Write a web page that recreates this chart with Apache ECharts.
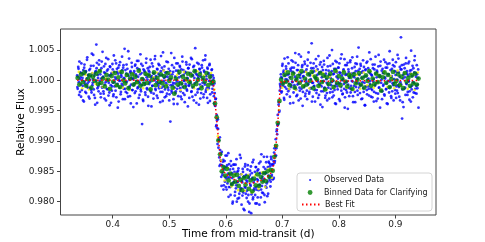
<!DOCTYPE html>
<html>
<head>
<meta charset="utf-8">
<script src="https://cdn.jsdelivr.net/npm/echarts@6/dist/echarts.min.js"></script>
<style>html,body{margin:0;padding:0;background:#fff}#c{width:485px;height:242px}</style>
</head>
<body>
<div id="c"></div>
<script>
// ---- tick labels ----
const xTicks = [0.4, 0.5, 0.6, 0.7, 0.8, 0.9];
const yTicks = [0.980, 0.985, 0.990, 0.995, 1.000, 1.005];

// ---- Observed Data (time, relative flux) ----
const observedPre = [
[.337,1.0008],[.338,.9986],[.339,1.0022],[.340,.9997],[.341,1.0031],[.342,.9981],[.343,1.0005],[.344,.9973],[.345,1.0012],[.346,1.0000],[.347,.9991],[.348,1.0017],[.349,.9965],[.350,1.0026],[.351,.9994],[.352,1.0014],[.353,.9979],[.354,1.0003],[.355,1.0038],[.356,.9988],
[.357,1.0009],[.358,.9998],[.359,.9970],[.360,1.0019],[.361,1.0007],[.362,.9984],[.363,1.0044],[.364,.9992],[.365,1.0001],[.366,1.0024],[.367,.9976],[.368,1.0011],[.369,.9960],[.370,1.0015],[.371,1.0059],[.372,1.0029],[.373,.9987],[.374,1.0004],[.375,.9982],[.376,1.0033],
[.377,.9999],[.378,1.0010],[.379,.9972],[.380,1.0020],[.381,.9989],[.382,1.0047],[.383,1.0006],[.384,.9978],[.385,1.0013],[.386,.9993],[.387,1.0027],[.388,.9967],[.389,1.0002],[.390,1.0016],[.391,.9985],[.392,1.0035],[.393,.9996],[.394,.9980],[.395,1.0023],[.396,1.0008],
[.397,.9963],[.398,1.0012],[.399,.9990],[.400,1.0018],[.401,.9974],[.402,1.0041],[.403,.9997],[.404,1.0005],[.405,.9983],[.406,1.0028],[.407,.9991],[.408,1.0014],[.409,.9955],[.410,1.0021],[.411,1.0000],[.412,.9988],[.413,1.0030],[.414,.9977],[.415,1.0009],[.416,.9994],
[.417,1.0017],[.418,.9969],[.419,1.0025],[.420,1.0003],[.421,1.0052],[.422,.9986],[.423,.9981],[.424,1.0011],[.425,.9998],[.426,1.0019],[.427,.9973],[.428,1.0007],[.429,1.0036],[.430,.9990],[.431,1.0013],[.432,.9962],[.433,1.0004],[.434,1.0022],[.435,.9984],[.436,1.0002],
[.437,.9992],[.438,1.0015],[.439,.9979],[.440,1.0026],[.441,1.0010],[.442,.9999],[.443,1.0032],[.444,.9987],[.445,1.0006],[.446,.9971],[.447,1.0018],[.448,.9995],[.449,1.0043],[.450,.9982],[.451,1.0012],[.452,.9928],[.453,1.0024],[.454,.9966],[.455,1.0001],[.456,1.0016],
[.457,.9993],[.458,.9976],[.459,1.0029],[.460,1.0005],[.461,.9985],[.462,1.0020],[.463,.9958],[.464,1.0009],[.465,1.0014],[.466,.9997],[.467,1.0034],[.468,.9980],[.469,1.0007],[.470,.9991],[.471,1.0023],[.472,.9970],[.473,1.0011],[.474,1.0000],[.475,1.0040],[.476,.9984],
[.477,1.0003],[.478,.9975],[.479,1.0018],[.480,.9994],[.481,1.0027],[.482,.9987],[.483,1.0008],[.484,.9964],[.485,1.0015],[.486,.9998],[.487,1.0021],[.488,.9981],[.489,1.0046],[.490,.9990],[.491,1.0004],[.492,.9972],[.493,1.0013],[.494,.9996],[.495,1.0031],[.496,.9978],
[.497,1.0006],[.498,.9988],[.499,1.0019],[.500,.9967],[.501,1.0010],[.502,.9932],[.503,1.0002],[.504,.9983],[.505,1.0025],[.506,.9992],[.507,1.0014],[.508,.9961],[.509,1.0037],[.510,.9995],[.511,.9979],[.512,1.0016],[.513,1.0001],[.514,.9986],[.515,1.0028],[.516,.9974],
[.517,1.0011],[.518,.9997],[.519,1.0022],[.520,.9982],[.521,1.0007],[.522,.9969],[.523,1.0039],[.524,.9989],[.525,1.0017],[.526,1.0000],[.527,.9976],[.528,1.0013],[.529,.9994],[.530,1.0030],[.531,.9985],[.532,1.0004],[.533,.9957],[.534,1.0020],[.535,.9991],[.536,1.0026],
[.537,.9998],[.538,1.0012],[.539,.9981],[.540,1.0035],[.541,.9973],[.542,1.0008],[.543,.9988],[.544,1.0024],[.545,.9995],[.546,1.0053],[.547,1.0016],[.548,.9963],[.549,1.0009],[.550,.9980],[.551,1.0003],[.552,1.0027],[.553,.9986],[.554,1.0018],[.555,.9970],[.556,1.0006],
[.557,.9990],[.558,1.0021],[.559,.9996],[.560,1.0033],[.561,.9977],[.562,1.0014],[.563,.9993],[.564,1.0041],[.565,.9984],[.566,1.0002],[.567,.9971],[.568,1.0019],[.569,1.0011],[.570,.9987],[.571,1.0025],[.572,.9966],[.573,1.0005],[.574,.9999],[.575,1.0017],[.576,.9980],
[.577,1.0008]
];
const observedPreB = [
[.3375,.9989],[.3385,1.0006],[.3395,1.0019],[.3405,.9976],[.3415,1.0002],[.3425,1.0013],[.3435,.9993],[.3445,1.0028],[.3455,.9984],[.3465,1.0004],[.3475,.9967],[.3485,1.0010],[.3495,1.0021],[.3505,.9998],[.3515,.9981],[.3525,1.0015],[.3535,.9991],[.3545,1.0034],[.3555,.9995],[.3565,1.0008],
[.3575,.9973],[.3585,1.0017],[.3595,1.0001],[.3605,.9987],[.3615,1.0024],[.3625,.9980],[.3635,1.0011],[.3645,.9996],[.3655,1.0042],[.3665,.9985],[.3675,1.0007],[.3685,.9971],[.3695,1.0014],[.3705,.9999],[.3715,1.0020],[.3725,.9963],[.3735,1.0009],[.3745,.9990],[.3755,1.0026],[.3765,.9994],
[.3775,1.0016],[.3785,.9978],[.3795,1.0003],[.3805,1.0031],[.3815,.9988],[.3825,1.0005],[.3835,.9982],[.3845,1.0023],[.3855,.9970],[.3865,1.0012],[.3875,.9997],[.3885,1.0037],[.3895,.9986],[.3905,1.0000],[.3915,1.0018],[.3925,.9975],[.3935,1.0008],[.3945,.9959],[.3955,1.0022],[.3965,.9992],
[.3975,1.0010],[.3985,.9983],[.3995,1.0027],[.4005,.9996],[.4015,.9977],[.4025,1.0014],[.4035,.9990],[.4045,1.0033],[.4055,1.0002],[.4065,.9972],[.4075,1.0019],[.4085,.9994],[.4095,1.0011],[.4105,.9965],[.4115,1.0025],[.4125,.9999],[.4135,1.0013],[.4145,.9981],[.4155,1.0006],[.4165,1.0039],
[.4175,.9991],[.4185,1.0021],[.4195,.9986],[.4205,1.0004],[.4215,.9969],[.4225,1.0017],[.4235,.9997],[.4245,1.0026],[.4255,.9979],[.4265,1.0009],[.4275,1.0048],[.4285,.9988],[.4295,1.0001],[.4305,.9974],[.4315,1.0015],[.4325,.9993],[.4335,1.0029],[.4345,.9984],[.4355,1.0003],[.4365,.9956],
[.4375,1.0012],[.4385,.9995],[.4395,1.0024],[.4405,.9982],[.4415,1.0007],[.4425,.9962],[.4435,1.0020],[.4445,.9989],[.4455,1.0032],[.4465,.9998],[.4475,.9976],[.4485,1.0010],[.4495,.9985],[.4505,1.0027],[.4515,.9992],[.4525,1.0003],[.4535,.9968],[.4545,1.0018],[.4555,.9996],[.4565,1.0014],
[.4575,.9980],[.4585,1.0009],[.4595,1.0036],[.4605,.9987],[.4615,1.0001],[.4625,.9973],[.4635,1.0016],[.4645,.9994],[.4655,1.0022],[.4665,.9983],[.4675,1.0005],[.4685,.9957],[.4695,1.0028],[.4705,.9991],[.4715,1.0012],[.4725,.9978],[.4735,1.0004],[.4745,1.0035],[.4755,.9986],[.4765,1.0007],
[.4775,.9997],[.4785,1.0019],[.4795,.9971],[.4805,1.0011],[.4815,.9990],[.4825,1.0025],[.4835,.9995],[.4845,.9981],[.4855,1.0040],[.4865,.9988],[.4875,1.0008],[.4885,.9966],[.4895,1.0017],[.4905,.9999],[.4915,1.0023],[.4925,.9985],[.4935,1.0006],[.4945,.9974],[.4955,1.0013],[.4965,.9993],
[.4975,1.0030],[.4985,.9984],[.4995,1.0002],[.5005,.9977],[.5015,1.0015],[.5025,.9992],[.5035,1.0045],[.5045,.9980],[.5055,1.0010],[.5065,.9996],[.5075,.9969],[.5085,1.0021],[.5095,.9988],[.5105,1.0006],[.5115,.9982],[.5125,1.0028],[.5135,.9998],[.5145,.9961],[.5155,1.0016],[.5165,.9991],
[.5175,1.0005],[.5185,1.0024],[.5195,.9987],[.5205,.9973],[.5215,1.0018],[.5225,.9994],[.5235,1.0031],[.5245,.9979],[.5255,1.0009],[.5265,.9999],[.5275,.9964],[.5285,1.0014],[.5295,.9990],[.5305,1.0026],[.5315,.9983],[.5325,1.0003],[.5335,1.0020],[.5345,.9992],[.5355,.9971],[.5365,1.0012],
[.5375,.9995],[.5385,1.0037],[.5395,.9982],[.5405,1.0008],[.5415,.9988],[.5425,1.0022],[.5435,.9967],[.5445,1.0004],[.5455,1.0015],[.5465,.9976],[.5475,1.0011],[.5485,.9998],[.5495,1.0029],[.5505,.9985],[.5515,1.0006],[.5525,.9960],[.5535,1.0019],[.5545,.9993],[.5555,1.0013],[.5565,.9979],
[.5575,1.0025],[.5585,.9990],[.5595,1.0002],[.5605,.9972],[.5615,1.0016],[.5625,.9996],[.5635,1.0034],[.5645,.9981],[.5655,1.0007],[.5665,.9987],[.5675,1.0021],[.5685,.9963],[.5695,1.0012],[.5705,.9999],[.5715,1.0027],[.5725,.9977],[.5735,1.0009],[.5745,.9994],[.5755,1.0018],[.5765,.9986]
];
const observedTransit = [
[.578,1.0000],[.579,.9974],[.580,.9995],[.581,.9958],[.582,.9969],[.583,.9924],[.584,.9943],[.585,.9921],[.586,.9936],[.587,.9889],[.588,.9901],[.589,.9859],[.590,.9885],[.591,.9868],[.592,.9841],[.593,.9882],[.594,.9844],[.595,.9866],[.596,.9820],[.597,.9853],
[.598,.9867],[.599,.9841],[.600,.9824],[.601,.9857],[.602,.9876],[.603,.9830],[.604,.9846],[.605,.9808],[.606,.9862],[.607,.9840],[.608,.9824],[.609,.9867],[.610,.9829],[.611,.9847],[.612,.9797],[.613,.9854],[.614,.9832],[.615,.9861],[.616,.9810],[.617,.9846],
[.618,.9822],[.619,.9870],[.620,.9832],[.621,.9805],[.622,.9851],[.623,.9839],[.624,.9813],[.625,.9877],[.626,.9821],[.627,.9845],[.628,.9795],[.629,.9832],[.630,.9854],[.631,.9815],[.632,.9840],[.633,.9786],[.634,.9858],[.635,.9823],[.636,.9844],[.637,.9806],
[.638,.9833],[.639,.9860],[.640,.9811],[.641,.9841],[.642,.9797],[.643,.9851],[.644,.9826],[.645,.9781],[.646,.9847],[.647,.9839],[.648,.9804],[.649,.9869],[.650,.9819],[.651,.9836],[.652,.9811],[.653,.9857],[.654,.9824],[.655,.9797],[.656,.9851],[.657,.9835],
[.658,.9819],[.659,.9863],[.660,.9828],[.661,.9847],[.662,.9807],[.663,.9878],[.664,.9826],[.665,.9841],[.666,.9814],[.667,.9857],[.668,.9837],[.669,.9799],[.670,.9854],[.671,.9847],[.672,.9823],[.673,.9874],[.674,.9833],[.675,.9813],[.676,.9866],[.677,.9840],
[.678,.9858],[.679,.9825],[.680,.9874],[.681,.9841],[.682,.9860],[.683,.9837],[.684,.9861],[.685,.9839],[.686,.9888],[.687,.9867],[.688,.9892],[.689,.9876],[.690,.9916],[.691,.9911],[.692,.9943],[.693,.9929],[.694,.9964],[.695,.9950],[.696,.9994],[.697,.9988]
];
const observedTransitB = [
[.5775,.9992],[.5785,1.0004],[.5795,.9962],[.5805,.9979],[.5815,.9958],[.5825,.9970],[.5835,.9926],[.5845,.9934],[.5855,.9895],[.5865,.9920],[.5875,.9902],[.5885,.9873],[.5895,.9906],[.5905,.9861],[.5915,.9879],[.5925,.9826],[.5935,.9860],[.5945,.9848],[.5955,.9869],[.5965,.9827],
[.5975,.9857],[.5985,.9833],[.5995,.9876],[.6005,.9838],[.6015,.9820],[.6025,.9860],[.6035,.9840],[.6045,.9880],[.6055,.9824],[.6065,.9845],[.6075,.9853],[.6085,.9811],[.6095,.9859],[.6105,.9828],[.6115,.9839],[.6125,.9800],[.6135,.9861],[.6145,.9832],[.6155,.9849],[.6165,.9816],
[.6175,.9861],[.6185,.9827],[.6195,.9800],[.6205,.9849],[.6215,.9833],[.6225,.9855],[.6235,.9806],[.6245,.9840],[.6255,.9818],[.6265,.9872],[.6275,.9822],[.6285,.9834],[.6295,.9810],[.6305,.9849],[.6315,.9788],[.6325,.9842],[.6335,.9824],[.6345,.9862],[.6355,.9813],[.6365,.9835],
[.6375,.9818],[.6385,.9853],[.6395,.9800],[.6405,.9839],[.6415,.9783],[.6425,.9844],[.6435,.9828],[.6445,.9858],[.6455,.9812],[.6465,.9837],[.6475,.9865],[.6485,.9807],[.6495,.9832],[.6505,.9822],[.6515,.9849],[.6525,.9797],[.6535,.9857],[.6545,.9820],[.6555,.9837],[.6565,.9807],
[.6575,.9853],[.6585,.9827],[.6595,.9795],[.6605,.9847],[.6615,.9866],[.6625,.9820],[.6635,.9838],[.6645,.9815],[.6655,.9847],[.6665,.9834],[.6675,.9874],[.6685,.9811],[.6695,.9847],[.6705,.9825],[.6715,.9865],[.6725,.9830],[.6735,.9809],[.6745,.9857],[.6755,.9843],[.6765,.9864],
[.6775,.9836],[.6785,.9862],[.6795,.9833],[.6805,.9870],[.6815,.9844],[.6825,.9862],[.6835,.9837],[.6845,.9867],[.6855,.9881],[.6865,.9864],[.6875,.9876],[.6885,.9903],[.6895,.9888],[.6905,.9919],[.6915,.9926],[.6925,.9927],[.6935,.9960],[.6945,.9948],[.6955,.9983],[.6965,.9991]
];
const observedPost = [
[.698,1.0005],[.699,.9982],[.700,1.0024],[.701,.9995],[.702,1.0013],[.703,.9971],[.704,1.0036],[.705,.9989],[.706,1.0002],[.707,1.0019],[.708,.9977],[.709,1.0009],[.710,.9999],[.711,1.0028],[.712,.9985],[.713,1.0005],[.714,.9962],[.715,1.0016],[.716,.9992],[.717,1.0021],
[.718,.9997],[.719,1.0031],[.720,.9980],[.721,1.0012],[.722,.9988],[.723,1.0045],[.724,1.0000],[.725,.9974],[.726,1.0017],[.727,.9993],[.728,1.0025],[.729,.9967],[.730,1.0010],[.731,.9983],[.732,1.0004],[.733,1.0039],[.734,.9986],[.735,1.0022],[.736,.9958],[.737,1.0006],
[.738,1.0014],[.739,.9991],[.740,1.0027],[.741,.9978],[.742,1.0001],[.743,1.0018],[.744,.9969],[.745,1.0034],[.746,.9994],[.747,1.0011],[.748,.9981],[.749,1.0008],[.750,1.0029],[.751,.9987],[.752,1.0061],[.753,.9996],[.754,.9973],[.755,1.0020],[.756,.9990],[.757,1.0015],
[.758,.9965],[.759,1.0003],[.760,1.0023],[.761,.9984],[.762,1.0009],[.763,.9998],[.764,1.0040],[.765,.9976],[.766,1.0013],[.767,.9992],[.768,1.0030],[.769,.9982],[.770,1.0005],[.771,.9956],[.772,1.0017],[.773,.9999],[.774,1.0026],[.775,.9988],[.776,.9971],[.777,1.0011],
[.778,1.0002],[.779,.9979],[.780,1.0037],[.781,.9993],[.782,1.0016],[.783,.9970],[.784,1.0008],[.785,1.0024],[.786,.9986],[.787,.9997],[.788,1.0050],[.789,.9981],[.790,1.0010],[.791,.9975],[.792,1.0019],[.793,.9991],[.794,1.0032],[.795,.9961],[.796,1.0006],[.797,1.0013],
[.798,.9985],[.799,1.0021],[.800,.9995],[.801,1.0028],[.802,.9966],[.803,1.0012],[.804,.9989],[.805,1.0043],[.806,1.0000],[.807,.9978],[.808,1.0016],[.809,.9994],[.810,1.0035],[.811,.9972],[.812,1.0009],[.813,.9984],[.814,1.0025],[.815,.9998],[.816,.9953],[.817,1.0018],
[.818,1.0004],[.819,.9987],[.820,1.0030],[.821,.9980],[.822,1.0011],[.823,.9999],[.824,1.0038],[.825,.9974],[.826,1.0007],[.827,.9991],[.828,1.0022],[.829,.9964],[.830,1.0015],[.831,.9996],[.832,1.0027],[.833,.9983],[.834,1.0003],[.835,1.0054],[.836,.9988],[.837,1.0019],
[.838,.9992],[.839,1.0024],[.840,.9969],[.841,1.0013],[.842,.9997],[.843,1.0033],[.844,.9981],[.845,1.0006],[.846,.9959],[.847,1.0017],[.848,.9990],[.849,1.0029],[.850,.9977],[.851,1.0001],[.852,1.0020],[.853,.9986],[.854,1.0046],[.855,.9994],[.856,1.0011],[.857,.9973],
[.858,1.0009],[.859,.9984],[.860,1.0026],[.861,.9998],[.862,.9965],[.863,1.0018],[.864,.9991],[.865,1.0039],[.866,.9979],[.867,1.0005],[.868,1.0014],[.869,.9970],[.870,1.0023],[.871,.9988],[.872,1.0008],[.873,.9955],[.874,1.0031],[.875,.9996],[.876,1.0016],[.877,.9982],
[.878,1.0012],[.879,.9993],[.880,1.0034],[.881,.9975],[.882,1.0003],[.883,1.0021],[.884,.9986],[.885,.9962],[.886,1.0027],[.887,.9999],[.888,1.0010],[.889,.9980],[.890,1.0048],[.891,.9989],[.892,1.0006],[.893,.9971],[.894,1.0019],[.895,.9995],[.896,1.0025],[.897,.9967],
[.898,1.0002],[.899,1.0015],[.900,.9978],[.901,1.0030],[.902,.9990],[.903,.9983],[.904,1.0042],[.905,.9992],[.906,1.0013],[.907,.9973],[.908,1.0022],[.909,.9997],[.910,1.0071],[.911,1.0018],[.912,.9937],[.913,.9964],[.914,1.0009],[.915,1.0026],[.916,.9986],[.917,1.0005],
[.918,.9976],[.919,1.0037],[.920,.9994],[.921,1.0011],[.922,.9981],[.923,1.0028],[.924,.9998],[.925,.9968],[.926,1.0016],[.927,.9989],[.928,1.0049],[.929,.9985],[.930,1.0007],[.931,.9972],[.932,1.0020],[.933,.9996],[.934,1.0033],[.935,.9979],[.936,1.0012],[.937,.9991],
[.938,1.0025],[.939,.9987],[.940,1.0004],[.941,.9955]
];
const observedPostB = [
[.6975,1.0010],[.6985,.9980],[.6995,1.0004],[.7005,1.0027],[.7015,.9991],[.7025,1.0016],[.7035,.9968],[.7045,1.0008],[.7055,.9997],[.7065,1.0023],[.7075,.9986],[.7085,1.0001],[.7095,1.0038],[.7105,.9982],[.7115,1.0010],[.7125,.9994],[.7135,.9973],[.7145,1.0019],[.7155,.9989],[.7165,1.0033],
[.7175,.9998],[.7185,1.0014],[.7195,.9963],[.7205,1.0021],[.7215,.9992],[.7225,1.0006],[.7235,1.0029],[.7245,.9985],[.7255,1.0003],[.7265,.9976],[.7275,1.0017],[.7285,.9995],[.7295,1.0043],[.7305,.9988],[.7315,1.0009],[.7325,.9970],[.7335,1.0012],[.7345,.9999],[.7355,1.0025],[.7365,.9981],
[.7375,1.0007],[.7385,.9989],[.7395,1.0031],[.7405,.9974],[.7415,1.0015],[.7425,.9997],[.7435,.9983],[.7445,1.0024],[.7455,.9993],[.7465,1.0046],[.7475,.9978],[.7485,1.0010],[.7495,.9987],[.7505,1.0002],[.7515,1.0020],[.7525,.9965],[.7535,1.0013],[.7545,.9996],[.7555,1.0028],[.7565,.9991],
[.7575,.9984],[.7585,1.0005],[.7595,1.0035],[.7605,.9979],[.7615,1.0000],[.7625,1.0018],[.7635,.9971],[.7645,1.0011],[.7655,.9994],[.7665,1.0026],[.7675,.9960],[.7685,1.0014],[.7695,.9990],[.7705,1.0022],[.7715,.9998],[.7725,.9982],[.7735,1.0032],[.7745,.9987],[.7755,1.0007],[.7765,.9975],
[.7775,1.0017],[.7785,.9996],[.7795,.9967],[.7805,1.0023],[.7815,.9988],[.7825,1.0009],[.7835,1.0041],[.7845,.9980],[.7855,1.0004],[.7865,.9992],[.7875,1.0015],[.7885,.9972],[.7895,1.0027],[.7905,.9999],[.7915,1.0011],[.7925,.9984],[.7935,.9962],[.7945,1.0019],[.7955,.9994],[.7965,1.0030],
[.7975,.9990],[.7985,1.0003],[.7995,1.0021],[.8005,.9969],[.8015,1.0013],[.8025,.9995],[.8035,1.0036],[.8045,.9983],[.8055,1.0008],[.8065,.9977],[.8075,1.0002],[.8085,1.0018],[.8095,.9986],[.8105,.9955],[.8115,1.0025],[.8125,.9997],[.8135,1.0010],[.8145,.9980],[.8155,1.0029],[.8165,.9993],
[.8175,1.0014],[.8185,.9974],[.8195,1.0006],[.8205,1.0033],[.8215,.9991],[.8225,.9985],[.8235,1.0020],[.8245,.9998],[.8255,.9964],[.8265,1.0012],[.8275,1.0005],[.8285,.9981],[.8295,1.0028],[.8305,.9989],[.8315,1.0001],[.8325,1.0039],[.8335,.9976],[.8345,1.0016],[.8355,.9995],[.8365,1.0009],
[.8375,.9979],[.8385,1.0027],[.8395,.9992],[.8405,1.0004],[.8415,.9970],[.8425,1.0015],[.8435,.9987],[.8445,1.0022],[.8455,.9996],[.8465,.9959],[.8475,1.0018],[.8485,1.0007],[.8495,.9984],[.8505,1.0031],[.8515,.9990],[.8525,1.0003],[.8535,.9975],[.8545,1.0013],[.8555,.9999],[.8565,1.0035],
[.8575,.9986],[.8585,1.0008],[.8595,.9972],[.8605,1.0020],[.8615,1.0002],[.8625,.9981],[.8635,1.0026],[.8645,.9993],[.8655,1.0011],[.8665,.9966],[.8675,1.0016],[.8685,.9997],[.8695,.9978],[.8705,1.0042],[.8715,.9988],[.8725,1.0006],[.8735,1.0024],[.8745,.9983],[.8755,1.0001],[.8765,.9969],
[.8775,1.0019],[.8785,.9991],[.8795,1.0013],[.8805,.9977],[.8815,1.0005],[.8825,1.0030],[.8835,.9985],[.8845,.9995],[.8855,1.0021],[.8865,.9961],[.8875,1.0010],[.8885,.9988],[.8895,1.0028],[.8905,.9998],[.8915,1.0017],[.8925,.9974],[.8935,1.0007],[.8945,.9982],[.8955,1.0034],[.8965,.9992],
[.8975,.9996],[.8985,1.0023],[.8995,.9984],[.9005,1.0009],[.9015,.9971],[.9025,1.0014],[.9035,1.0001],[.9045,.9979],[.9055,1.0036],[.9065,.9989],[.9075,1.0006],[.9085,.9967],[.9095,1.0018],[.9105,.9993],[.9115,1.0025],[.9125,.9985],[.9135,1.0003],[.9145,.9956],[.9155,1.0012],[.9165,1.0020],
[.9175,.9988],[.9185,1.0028],[.9195,.9995],[.9205,1.0015],[.9215,.9976],[.9225,1.0008],[.9235,.9999],[.9245,1.0031],[.9255,.9982],[.9265,1.0011],[.9275,.9965],[.9285,1.0017],[.9295,.9991],[.9305,1.0024],[.9315,.9997],[.9325,.9980],[.9335,1.0013],[.9345,1.0040],[.9355,.9986],[.9365,1.0006],
[.9375,.9978],[.9385,1.0010],[.9395,.9993],[.9405,1.0018]
];

// ---- fine binned points (yellow, unlabeled) ----
const finePre = [
[.340,1.0014],[.346,.9987],[.352,1.0009],[.358,.9985],[.364,1.0012],[.370,.9994],[.376,1.0016],[.382,.9989],[.388,1.0003],[.394,.9986],[.400,1.0013],[.406,.9991],[.412,1.0015],[.418,.9988],[.424,1.0007],[.430,.9984],[.436,1.0011],[.442,.9996],[.448,1.0014],[.454,.9987],
[.460,1.0010],[.466,.9985],[.472,1.0005],[.478,1.0013],[.484,.9989],[.490,1.0016],[.496,.9992],[.502,1.0012],[.508,.9986],[.514,1.0009],[.520,.9984],[.526,1.0014],[.532,.9998],[.538,1.0011],[.544,.9987],[.550,1.0015],[.556,.9990],[.562,1.0008],[.568,.9985],[.574,1.0012]
];
const fineTransit = [
[.580,.9985],[.586,.9908],[.592,.9868],[.598,.9835],[.604,.9855],[.610,.9825],[.616,.9846],[.622,.9819],[.628,.9845],[.634,.9818],[.640,.9844],[.646,.9815],[.652,.9843],[.658,.9821],[.664,.9848],[.670,.9824],[.676,.9854],[.682,.9839],[.688,.9892],[.694,.9951]
];
const finePost = [
[.700,.9988],[.706,1.0015],[.712,.9986],[.718,1.0010],[.724,.9984],[.730,1.0013],[.736,.9991],[.742,1.0014],[.748,.9987],[.754,1.0008],[.760,1.0016],[.766,.9989],[.772,1.0012],[.778,.9985],[.784,1.0006],[.790,.9987],[.796,1.0014],[.802,.9990],[.808,1.0015],[.814,.9988],
[.820,1.0011],[.826,.9984],[.832,1.0009],[.838,.9986],[.844,1.0013],[.850,.9992],[.856,1.0015],[.862,.9988],[.868,1.0010],[.874,.9985],[.880,1.0014],[.886,.9989],[.892,1.0007],[.898,.9987],[.904,1.0016],[.910,.9991],[.916,1.0012],[.922,.9986],[.928,1.0011],[.934,.9984],[.940,1.0013]
];

// ---- Binned Data for Clarifying ----
const binnedPre = [
[.338,1.0004],[.341,.9993],[.344,1.0010],[.347,.9997],[.350,1.0013],[.353,.9991],[.356,1.0002],[.359,1.0008],[.362,.9988],[.365,1.0006],[.368,.9999],[.371,1.0011],[.374,.9994],[.377,1.0015],[.380,.9996],[.383,1.0003],[.386,.9990],[.389,1.0009],[.392,1.0001],[.395,.9986],
[.398,1.0007],[.401,.9998],[.404,1.0012],[.407,.9992],[.410,1.0005],[.413,.9989],[.416,1.0014],[.419,1.0000],[.422,.9995],[.425,1.0009],[.428,.9987],[.431,1.0003],[.434,1.0010],[.437,.9993],[.440,1.0006],[.443,.9997],[.446,1.0016],[.449,.9991],[.452,1.0002],[.455,.9994],
[.458,1.0011],[.461,.9996],[.464,1.0008],[.467,.9985],[.470,1.0001],[.473,1.0013],[.476,.9992],[.479,1.0004],[.482,.9998],[.485,1.0010],[.488,.9995],[.491,1.0007],[.494,.9990],[.497,1.0012],[.500,.9999],[.503,1.0005],[.506,.9988],[.509,.9978],[.512,1.0003],[.515,.9993],
[.518,1.0014],[.521,.9995],[.524,1.0006],[.527,.9989],[.530,1.0002],[.533,1.0011],[.536,.9997],[.539,1.0008],[.542,.9991],[.545,1.0015],[.548,.9994],[.551,1.0001],[.554,1.0010],[.557,.9987],[.560,1.0004],[.563,.9998],[.566,1.0012],[.569,.9992],[.572,1.0006],[.575,.9996]
];
const binnedTransit = [
[.578,.9998],[.581,.9962],[.584,.9939],[.587,.9901],[.590,.9878],[.593,.9850],[.596,.9857],[.599,.9843],[.602,.9854],[.605,.9835],[.608,.9846],[.611,.9829],[.614,.9843],[.617,.9833],[.620,.9844],[.623,.9826],[.626,.9836],[.629,.9819],[.632,.9839],[.635,.9828],
[.638,.9841],[.641,.9821],[.644,.9835],[.647,.9817],[.650,.9838],[.653,.9827],[.656,.9845],[.659,.9826],[.662,.9841],[.665,.9833],[.668,.9847],[.671,.9834],[.674,.9850],[.677,.9841],[.680,.9852],[.683,.9851],[.686,.9874],[.689,.9892],[.692,.9930],[.695,.9966],[.698,1.0001]
];
const binnedPost = [
[.701,.9995],[.704,1.0009],[.707,.9998],[.710,1.0013],[.713,.9992],[.716,1.0004],[.719,1.0011],[.722,.9988],[.725,1.0001],[.728,1.0007],[.731,.9996],[.734,1.0015],[.737,.9990],[.740,1.0003],[.743,.9993],[.746,1.0010],[.749,.9999],[.752,1.0014],[.755,.9987],[.758,1.0006],
[.761,1.0002],[.764,.9991],[.767,1.0012],[.770,.9997],[.773,1.0008],[.776,.9985],[.779,1.0005],[.782,.9994],[.785,1.0011],[.788,1.0000],[.791,.9989],[.794,1.0016],[.797,.9996],[.800,1.0007],[.803,.9992],[.806,1.0003],[.809,1.0013],[.812,.9998],[.815,.9990],[.818,1.0009],
[.821,1.0006],[.824,.9986],[.827,1.0010],[.830,.9995],[.833,1.0001],[.836,1.0012],[.839,.9993],[.842,1.0004],[.845,.9988],[.848,1.0008],[.851,.9999],[.854,1.0015],[.857,.9991],[.860,1.0003],[.863,.9994],[.866,1.0011],[.869,.9997],[.872,1.0007],[.875,.9983],[.878,1.0005],
[.881,1.0013],[.884,.9996],[.887,1.0009],[.890,.9989],[.893,1.0002],[.896,1.0014],[.899,.9994],[.902,.9999],[.905,1.0010],[.908,.9992],[.911,1.0006],[.914,.9987],[.917,1.0012],[.920,.9998],[.923,1.0004],[.926,.9991],[.929,1.0008],[.932,.9995],[.935,1.0011],[.938,.9993],[.941,1.0003]
];

// ---- Best Fit ----
const bestFit = [
[.337,1.0000],[.576,1.0000],[.578,.9995],[.580,.9977],[.582,.9955],[.584,.9934],[.586,.9914],[.588,.9894],[.590,.9874],[.592,.9859],[.595,.9851],[.600,.9846],[.610,.9839],[.620,.9834],[.630,.9831],[.640,.9830],
[.650,.9831],[.660,.9834],[.670,.9839],[.678,.9845],[.682,.9850],[.684,.9857],[.686,.9870],[.688,.9886],[.690,.9904],[.692,.9928],[.694,.9956],[.696,.9984],[.698,.9998],[.700,1.0000],[.941,1.0000]
];

const FONT = 'DejaVu Sans';
const observed = observedPre.concat(observedPreB, observedTransit, observedTransitB, observedPost, observedPostB);
const fine = finePre.concat(fineTransit, finePost);
const binned = binnedPre.concat(binnedTransit, binnedPost);

const chart = echarts.init(document.getElementById('c'), null, {renderer: 'canvas'});
const legendBase = {
  orient: 'vertical', padding: 0, itemWidth: 18, itemGap: 0,
  selectedMode: false,
  textStyle: {fontFamily: FONT, fontSize: 8, color: '#1a1a1a', lineHeight: 10, padding: [0, 0, 0, 0]}
};
chart.setOption({
  animation: false,
  backgroundColor: '#fff',
  grid: {left: 60.5, right: 49, top: 29, bottom: 27, show: true, borderColor: '#444', borderWidth: 1,
         backgroundColor: 'transparent', containLabel: false, outerBoundsMode: 'none'},
  xAxis: {
    type: 'value', min: 0.3076, max: 0.972,
    splitLine: {show: false},
    axisLine: {show: false},
    axisTick: {show: true, length: 3.5, lineStyle: {color: '#444', width: 1}, customValues: xTicks},
    axisLabel: {customValues: xTicks, formatter: v => v.toFixed(1), fontFamily: FONT, fontSize: 9, color: '#1a1a1a', margin: 5},
    name: 'Time from mid-transit (d)', nameLocation: 'middle', nameGap: 13.5, nameMoveOverlap: false,
    nameTextStyle: {fontFamily: FONT, fontSize: 10.5, color: '#000'}
  },
  yAxis: {
    type: 'value', min: 0.9778, max: 1.00847,
    splitLine: {show: false},
    axisLine: {show: false},
    axisTick: {show: true, length: 3.5, lineStyle: {color: '#444', width: 1}, customValues: yTicks},
    axisLabel: {customValues: yTicks, formatter: v => v.toFixed(3), fontFamily: FONT, fontSize: 9, color: '#1a1a1a', margin: 6},
    name: 'Relative Flux', nameLocation: 'middle', nameGap: 33.5, nameMoveOverlap: false,
    nameTextStyle: {fontFamily: FONT, fontSize: 10.5, color: '#000'}
  },
  legend: [
    Object.assign({}, legendBase, {left: 309, top: 175, itemHeight: 2.2, data: [{name: 'Observed Data', icon: 'circle'}]}),
    Object.assign({}, legendBase, {left: 307.7, top: 187.5, itemHeight: 4.8, data: [{name: 'Binned Data for Clarifying', icon: 'circle'}]}),
    Object.assign({}, legendBase, {left: 301, top: 199.5, itemHeight: 10, data: [{name: 'Best Fit', itemStyle: {opacity: 0}}]})
  ],
  graphic: [{
    type: 'rect', z: 3, silent: true,
    shape: {x: 297, y: 173, width: 135, height: 38, r: 3},
    style: {fill: 'rgba(255,255,255,0.85)', stroke: '#d4d4d4', lineWidth: 1}
  }],
  series: [
    {name: 'Observed Data', type: 'scatter', data: observed, symbol: 'circle', symbolSize: 2.8, silent: true,
     itemStyle: {color: '#0000ff'}},
    {name: 'Fine Binned', type: 'scatter', data: fine, symbol: 'circle', symbolSize: 2.6, silent: true,
     itemStyle: {color: '#f2f200'}},
    {name: 'Binned Data for Clarifying', type: 'scatter', data: binned, symbol: 'circle', symbolSize: 4.8, silent: true,
     itemStyle: {color: '#008000'}},
    {name: 'Best Fit', type: 'line', data: bestFit, symbol: 'none', showSymbol: false, silent: true, z: 5,
     itemStyle: {color: '#ff0000'},
     lineStyle: {color: '#ff0000', width: 1.5, type: [1.5, 2.5]}}
  ]
});
</script>
</body>
</html>
